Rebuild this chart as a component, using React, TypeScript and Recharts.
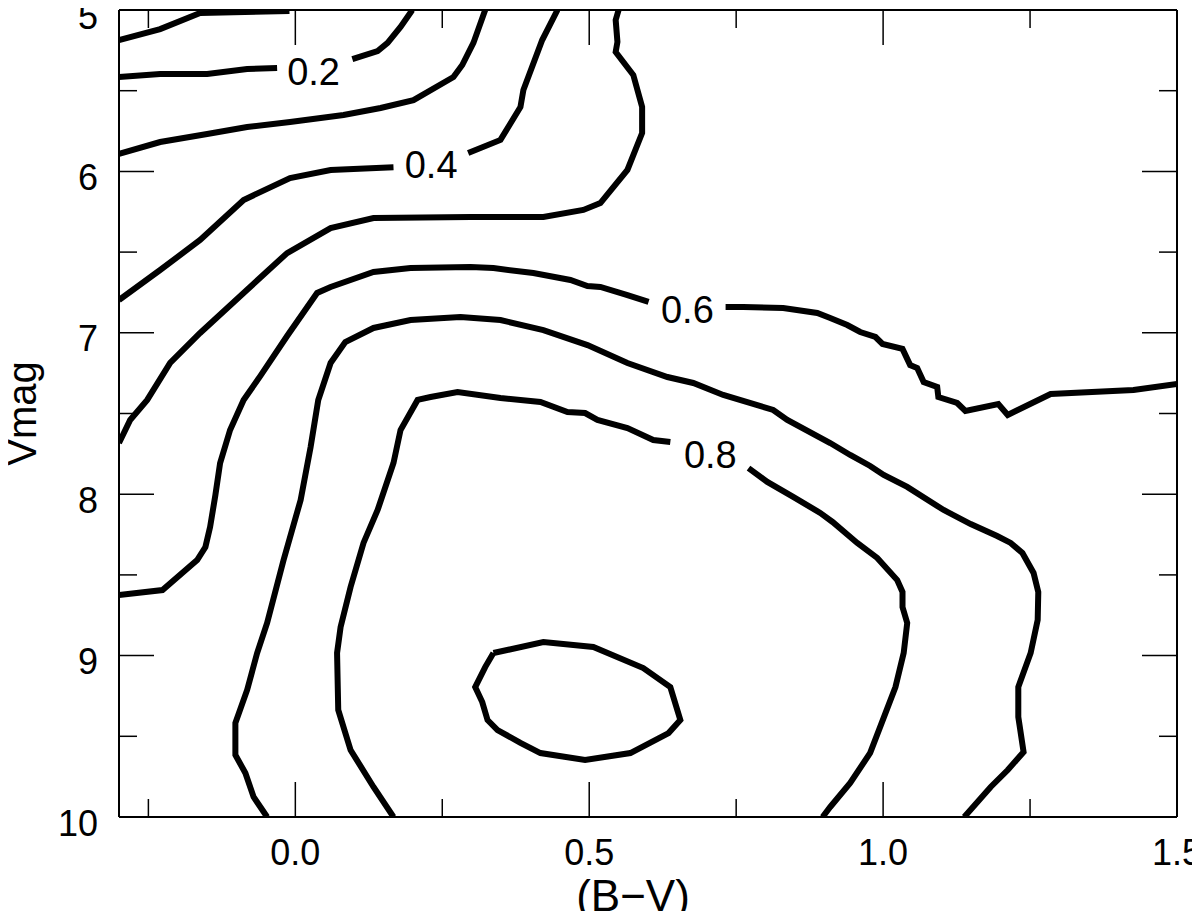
import React from 'react';
import { ComposedChart, Line, XAxis, YAxis, Scatter } from 'recharts';

const FONT = '"Liberation Sans", Arial, sans-serif';

const xTicks = [-0.25, 0, 0.25, 0.5, 0.75, 1.0, 1.25, 1.5];
const xMajor = [0, 0.5, 1.0, 1.5];
const yTicks = [5, 5.5, 6, 6.5, 7, 7.5, 8, 8.5, 9, 9.5, 10];
const yMajor = [5, 6, 7, 8, 9, 10];

type P = { x: number; y: number };
const pts = (a: number[][]): P[] => a.map(([x, y]) => ({ x, y }));

const contour01 = pts([[-0.30, 5.186], [-0.230, 5.118], [-0.162, 5.019], [-0.01, 5.006]]);
const contour02a = pts([[-0.30, 5.415], [-0.230, 5.397], [-0.150, 5.397], [-0.082, 5.366], [-0.031, 5.359]]);
const contour02b = pts([[0.097, 5.304], [0.140, 5.254], [0.157, 5.204], [0.179, 5.105], [0.199, 5.0]]);
const contour03 = pts([[-0.30, 5.892], [-0.230, 5.818], [-0.150, 5.768], [-0.082, 5.725], [-0.009, 5.694], [0.082, 5.651], [0.145, 5.607], [0.201, 5.558], [0.269, 5.415], [0.284, 5.341], [0.303, 5.204], [0.323, 5.0]]);
const contour04a = pts([[-0.30, 6.797], [-0.230, 6.611], [-0.162, 6.425], [-0.088, 6.177], [-0.009, 6.041], [0.060, 5.991], [0.167, 5.975]]);
const contour04b = pts([[0.294, 5.886], [0.349, 5.805], [0.383, 5.601], [0.388, 5.496], [0.420, 5.186], [0.446, 5.0]]);
const contour05 = pts([[-0.30, 7.683], [-0.281, 7.540], [-0.252, 7.416], [-0.213, 7.187], [-0.162, 7.001], [-0.088, 6.753], [-0.014, 6.506], [0.060, 6.351], [0.133, 6.289], [0.298, 6.283], [0.422, 6.283], [0.490, 6.239], [0.519, 6.196], [0.565, 5.991], [0.590, 5.762], [0.590, 5.601], [0.575, 5.403], [0.545, 5.260], [0.548, 5.198], [0.545, 5.062], [0.550, 5.0]]);
const contour06a = pts([[-0.30, 8.625], [-0.226, 8.594], [-0.167, 8.408], [-0.153, 8.327], [-0.145, 8.203], [-0.136, 8.005], [-0.128, 7.807], [-0.111, 7.602], [-0.088, 7.416], [-0.060, 7.270], [-0.014, 7.020], [0.037, 6.753], [0.060, 6.716], [0.133, 6.623], [0.196, 6.599], [0.298, 6.592], [0.337, 6.599], [0.405, 6.630], [0.468, 6.673], [0.497, 6.710], [0.519, 6.716], [0.565, 6.766], [0.601, 6.809]]);
const contour06b = pts([[0.732, 6.840], [0.762, 6.840], [0.830, 6.846], [0.888, 6.877], [0.910, 6.908], [0.939, 6.952], [0.961, 6.995], [0.987, 7.026], [0.999, 7.069], [1.033, 7.100], [1.046, 7.200], [1.058, 7.218], [1.069, 7.305], [1.092, 7.336], [1.094, 7.398], [1.126, 7.435], [1.140, 7.484], [1.196, 7.441], [1.212, 7.509], [1.285, 7.379], [1.426, 7.354], [1.500, 7.317]]);
const contour07 = pts([[-0.048, 10.0], [-0.071, 9.876], [-0.085, 9.727], [-0.102, 9.616], [-0.102, 9.418], [-0.082, 9.213], [-0.065, 8.984], [-0.048, 8.798], [-0.020, 8.408], [0.009, 8.036], [0.026, 7.708], [0.039, 7.416], [0.060, 7.187], [0.085, 7.057], [0.133, 6.970], [0.196, 6.921], [0.281, 6.902], [0.349, 6.921], [0.422, 6.983], [0.497, 7.076], [0.565, 7.187], [0.633, 7.274], [0.677, 7.311], [0.728, 7.385], [0.813, 7.478], [0.837, 7.540], [0.910, 7.683], [0.944, 7.757], [0.978, 7.825], [1.001, 7.881], [1.041, 7.955], [1.103, 8.098], [1.149, 8.185], [1.194, 8.259], [1.217, 8.302], [1.237, 8.364], [1.256, 8.488], [1.264, 8.606], [1.263, 8.779], [1.251, 8.984], [1.230, 9.195], [1.230, 9.380], [1.239, 9.597], [1.212, 9.709], [1.183, 9.814], [1.138, 10.0]]);
const contour08a = pts([[0.167, 10.0], [0.133, 9.814], [0.094, 9.585], [0.073, 9.337], [0.071, 8.984], [0.077, 8.823], [0.094, 8.575], [0.116, 8.302], [0.140, 8.098], [0.167, 7.807], [0.179, 7.602], [0.208, 7.416], [0.230, 7.398], [0.276, 7.367], [0.349, 7.404], [0.417, 7.429], [0.463, 7.491], [0.493, 7.497], [0.514, 7.540], [0.565, 7.590], [0.609, 7.664], [0.638, 7.677]]);
const contour08b = pts([[0.771, 7.838], [0.803, 7.924], [0.847, 8.017], [0.893, 8.116], [0.914, 8.172], [0.956, 8.302], [0.990, 8.395], [1.024, 8.532], [1.033, 8.606], [1.033, 8.699], [1.041, 8.798], [1.035, 8.984], [1.021, 9.195], [1.004, 9.356], [0.978, 9.603], [0.944, 9.789], [0.910, 9.938], [0.897, 10.0]]);
const contour09 = pts([[0.337, 8.984], [0.422, 8.916], [0.507, 8.947], [0.592, 9.077], [0.638, 9.195], [0.655, 9.399], [0.635, 9.480], [0.570, 9.604], [0.493, 9.647], [0.417, 9.604], [0.383, 9.541], [0.344, 9.461], [0.327, 9.399], [0.318, 9.288], [0.306, 9.195], [0.323, 9.071], [0.337, 8.984]]);

const contourLabels = [
  { x: 0.031, y: 5.378, text: '0.2' },
  { x: 0.231, y: 5.954, text: '0.4' },
  { x: 0.667, y: 6.853, text: '0.6' },
  { x: 0.706, y: 7.751, text: '0.8' },
];

const contours = [contour01, contour02a, contour02b, contour03, contour04a, contour04b, contour05, contour06a, contour06b, contour07, contour08a, contour08b, contour09];

const isMajor = (v: number, majors: number[]) => majors.some((m) => Math.abs(m - v) < 1e-9);
const MAJ = 35;
const MIN = 18;
const TICK_W = 1.5;

const BottomTick = (props: any) => {
  const { x, y, payload } = props;
  const major = isMajor(payload.value, xMajor);
  return (
    <g>
      <line x1={x} y1={y} x2={x} y2={y - (major ? MAJ : MIN)} stroke="#000" strokeWidth={TICK_W} />
      {major && (
        <text x={x} y={y + 48} textAnchor="middle" fontSize={36} fontFamily={FONT} fill="#000">
          {payload.value.toFixed(1)}
        </text>
      )}
    </g>
  );
};
const TopTick = (props: any) => {
  const { x, y, payload } = props;
  const major = isMajor(payload.value, xMajor);
  return <line x1={x} y1={y} x2={x} y2={y + (major ? MAJ : MIN)} stroke="#000" strokeWidth={TICK_W} />;
};
const LeftTick = (props: any) => {
  const { x, y, payload } = props;
  const major = isMajor(payload.value, yMajor);
  return (
    <g>
      <line x1={x} y1={y} x2={x + (major ? MAJ : MIN)} y2={y} stroke="#000" strokeWidth={TICK_W} />
      {major && (
        <text x={x - 21} y={y + 18.5} textAnchor="end" fontSize={36} fontFamily={FONT} fill="#000">
          {String(payload.value)}
        </text>
      )}
    </g>
  );
};
const RightTick = (props: any) => {
  const { x, y, payload } = props;
  const major = isMajor(payload.value, yMajor);
  return <line x1={x} y1={y} x2={x - (major ? MAJ : MIN)} y2={y} stroke="#000" strokeWidth={TICK_W} />;
};

const LabelShape = (props: any) => {
  const { cx, cy, payload } = props;
  return (
    <text x={cx} y={cy} dy="0.36em" textAnchor="middle" fontSize={38} fontFamily={FONT} fill="#000">
      {payload.text}
    </text>
  );
};

const XTitle = (props: any) => {
  const vb = props.viewBox || { x: 111, y: 809, width: 1058, height: 102 };
  return (
    <text x={vb.x + vb.width / 2 - 15} y={903} textAnchor="middle" fontSize={44} fontFamily={FONT} fill="#000">
      (B−V)
    </text>
  );
};
const YTitle = (props: any) => {
  const vb = props.viewBox || { x: 0, y: 2, width: 111, height: 807 };
  const cy = vb.y + vb.height / 2;
  return (
    <text x={28} y={cy} transform={`rotate(-90, 28, ${cy})`} textAnchor="middle" fontSize={40} fontFamily={FONT} fill="#000">
      Vmag
    </text>
  );
};

const axisLine = { stroke: '#000', strokeWidth: 2 };

export default function App() {
  return (
    <div style={{ width: 1184, height: 911, marginBottom: -8 }}>
      <ComposedChart width={1184} height={911} margin={{ top: 0, right: 0, bottom: 0, left: 0 }}>
        <XAxis
          xAxisId={0}
          dataKey="x"
          type="number"
          domain={[-0.3, 1.5]}
          allowDataOverflow
          ticks={xTicks}
          interval={0}
          tickSize={0}
          tickMargin={0}
          tickLine={false}
          tick={<BottomTick />}
          axisLine={axisLine}
          height={102}
          orientation="bottom"
          label={{ content: (p: any) => <XTitle {...p} /> }}
        />
        <XAxis
          xAxisId="top"
          dataKey="x"
          type="number"
          domain={[-0.3, 1.5]}
          allowDataOverflow
          ticks={xTicks}
          interval={0}
          tickSize={0}
          tickMargin={0}
          tickLine={false}
          tick={<TopTick />}
          axisLine={axisLine}
          height={2}
          orientation="top"
        />
        <YAxis
          yAxisId={0}
          dataKey="y"
          type="number"
          domain={[5, 10]}
          reversed
          allowDataOverflow
          ticks={yTicks}
          interval={0}
          tickSize={0}
          tickMargin={0}
          tickLine={false}
          tick={<LeftTick />}
          axisLine={axisLine}
          width={111}
          orientation="left"
          label={{ content: (p: any) => <YTitle {...p} /> }}
        />
        <YAxis
          yAxisId="right"
          dataKey="y"
          type="number"
          domain={[5, 10]}
          reversed
          allowDataOverflow
          ticks={yTicks}
          interval={0}
          tickSize={0}
          tickMargin={0}
          tickLine={false}
          tick={<RightTick />}
          axisLine={axisLine}
          width={15}
          orientation="right"
        />
        {contours.map((d, i) => (
          <Line
            key={i}
            data={d}
            dataKey="y"
            type="linear"
            stroke="#000"
            strokeWidth={6}
            dot={false}
            activeDot={false}
            isAnimationActive={false}
            legendType="none"
          />
        ))}
        <Scatter data={contourLabels} dataKey="y" shape={<LabelShape />} isAnimationActive={false} legendType="none" />
      </ComposedChart>
    </div>
  );
}
